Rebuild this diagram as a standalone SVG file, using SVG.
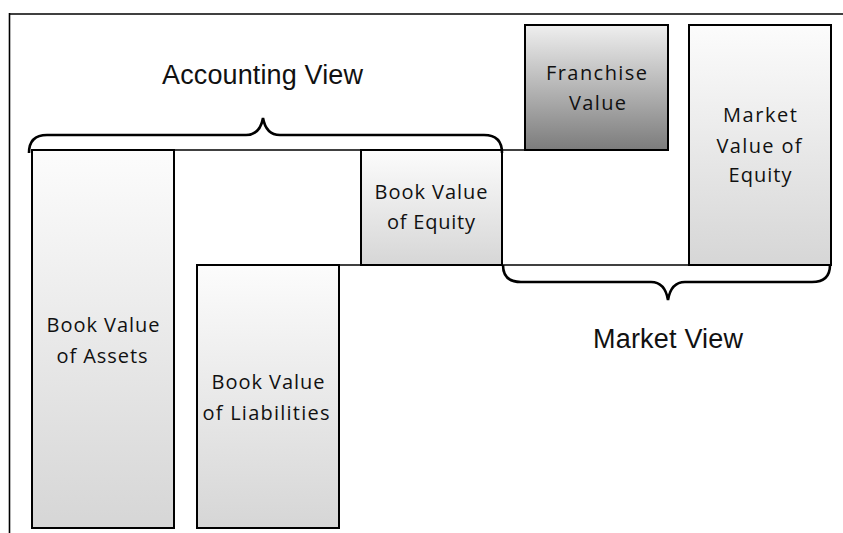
<svg xmlns="http://www.w3.org/2000/svg" width="843" height="533" viewBox="0 0 843 533">
<defs>
<linearGradient id="g1" x1="0" y1="0" x2="0" y2="1">
<stop offset="0" stop-color="#fcfcfc"/>
<stop offset="1" stop-color="#d6d6d6"/>
</linearGradient>
<linearGradient id="g2" x1="0" y1="0" x2="0" y2="1">
<stop offset="0" stop-color="#efefef"/>
<stop offset="1" stop-color="#7c7c7c"/>
</linearGradient>
</defs>
<style>
.box{fill:url(#g1);stroke:#000;stroke-width:2}
.dark{fill:url(#g2);stroke:#000;stroke-width:2}
.ln{stroke:#000;stroke-width:1.6;fill:none}
.brace{stroke:#000;stroke-width:2.6;fill:none}
.lbl{font-family:"Open Sans","Noto Sans",sans-serif;font-size:20px;fill:#111;text-anchor:middle}
.big{font-family:"Liberation Sans",Arial,sans-serif;font-size:27px;fill:#111;text-anchor:middle}
</style>
<rect width="843" height="533" fill="#fff"/>
<g id="frame">
<line class="ln" x1="9.5" y1="14" x2="843" y2="14" stroke-width="2"/>
<line class="ln" x1="9.5" y1="13" x2="9.5" y2="533" stroke-width="2"/>
</g>
<g id="assets">
<rect class="box" x="32" y="150" width="142" height="378"/>
<text class="lbl" x="103" y="332" textLength="113" lengthAdjust="spacing">Book Value</text>
<text class="lbl" x="102" y="363" textLength="91" lengthAdjust="spacing">of Assets</text>
</g>
<g id="liabilities">
<rect class="box" x="197" y="265" width="142" height="263"/>
<text class="lbl" x="268" y="389" textLength="113" lengthAdjust="spacing">Book Value</text>
<text class="lbl" x="266" y="420" textLength="127" lengthAdjust="spacing">of Liabilities</text>
</g>
<g id="equity">
<rect class="box" x="361" y="150" width="141" height="115"/>
<text class="lbl" x="431" y="199" textLength="113" lengthAdjust="spacing">Book Value</text>
<text class="lbl" x="431" y="229" textLength="88" lengthAdjust="spacing">of Equity</text>
</g>
<g id="franchise">
<rect class="dark" x="525" y="25" width="143" height="125"/>
<text class="lbl" x="596.5" y="80" textLength="101" lengthAdjust="spacing">Franchise</text>
<text class="lbl" x="597.5" y="110" textLength="57" lengthAdjust="spacing">Value</text>
</g>
<g id="market-equity">
<rect class="box" x="689" y="25" width="142" height="240"/>
<text class="lbl" x="760" y="122" textLength="74" lengthAdjust="spacing">Market</text>
<text class="lbl" x="759" y="153" textLength="85" lengthAdjust="spacing">Value of</text>
<text class="lbl" x="760" y="182" textLength="63" lengthAdjust="spacing">Equity</text>
</g>
<g id="connectors">
<line class="ln" x1="32" y1="150" x2="668" y2="150"/>
<line class="ln" x1="197" y1="265" x2="689" y2="265"/>
<path class="brace" d="M29,153 Q29,135 47,135 L246,135 Q260,135 263,118 Q266,135 280,135 L484,135 Q502,135 502,153"/>
<path class="brace" d="M503,265 Q503,282 521,282 L651,282 Q665,282 668,300 Q671,282 685,282 L812,282 Q830,282 830,265"/>
</g>
<g id="titles">
<text class="big" x="262.5" y="84" textLength="201" lengthAdjust="spacing">Accounting View</text>
<text class="big" x="668" y="348" textLength="150" lengthAdjust="spacing">Market View</text>
</g>
</svg>
